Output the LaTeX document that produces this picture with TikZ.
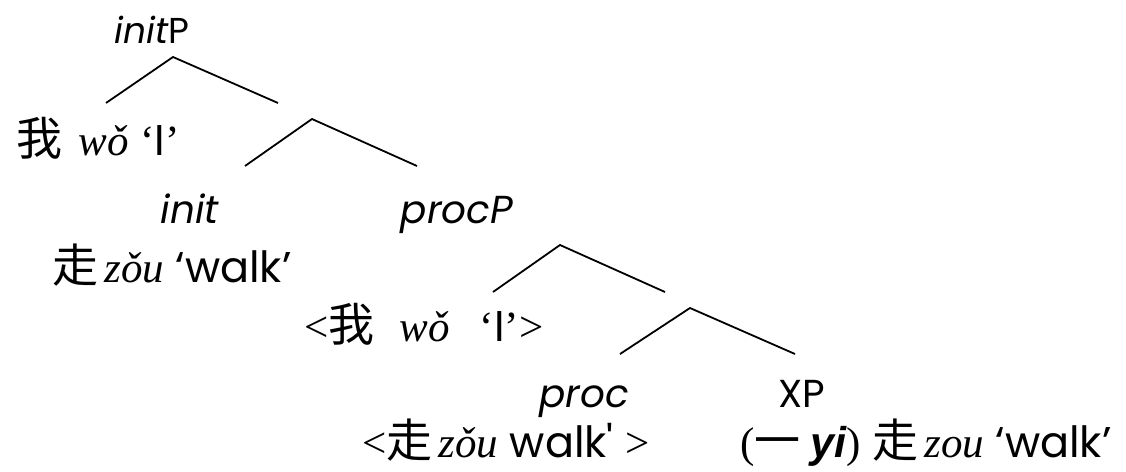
\documentclass[tikz,border=0pt]{standalone}
\usepackage{fontspec}
\setmainfont{Poppins}[Ligatures=TeXOff]
\newfontfamily\cjk{Noto Sans CJK SC}
\newfontfamily\serif{Liberation Serif}[Ligatures=TeXOff]
\newfontfamily\arialf{Liberation Sans}
\newcommand\py[1]{{\serif\itshape #1}}
\newcommand\zh[1]{{\cjk\fontsize{46}{50}\selectfont #1}}
\newcommand\qI{{\serif ‘}I{\serif ’}}
\begin{document}
\begin{tikzpicture}[x=1pt,y=-1pt,
  lbl/.style={anchor=base,inner sep=0pt,font=\fontsize{39}{46}\selectfont},
  row/.style={anchor=base,inner sep=0pt,font=\fontsize{43}{50}\selectfont},
  br/.style={line width=1.8pt}]
\useasboundingbox (0,0) rectangle (1126,471);
% labels
\node[lbl,font=\fontsize{36}{40}\selectfont] (initP) at (152,43) {\itshape init\upshape P};
\node[row] (wo) at (98,155) {\zh{我}\hspace{16pt}\py{wǒ} \qI};
\node[lbl] (init) at (190,223) {\itshape init};
\node[lbl] (procP) at (457,223) {\itshape procP};
\node[row] (zou) at (172,282) {\zh{走}\hspace{6pt}\py{zǒu} ‘walk’};
\node[row] (wotr) at (424,341) {{\serif <}\zh{我}\hspace{25pt}\py{wǒ}\hspace{30pt}\qI{\serif >}};
\node[lbl] (proc) at (584,407) {\itshape proc};
\node[lbl] (XP) at (802,407) {XP};
\node[row] (zoutr) at (506,457) {{\serif <}\zh{走}\hspace{6pt}\py{zǒu} walk' {\serif >}};
\node[row] (yi) at (926,457) {{\serif (}\zh{一}\hspace{10pt}{\arialf\bfseries\itshape yi}{\serif )} \zh{走}\hspace{6pt}\py{zou} ‘walk’};
% branch points
\coordinate (a0) at (173,57);  \coordinate (a1) at (106,103); \coordinate (a2) at (278,103);
\coordinate (b0) at (312,119); \coordinate (b1) at (245,166); \coordinate (b2) at (417,166);
\coordinate (c0) at (560,245); \coordinate (c1) at (493,292); \coordinate (c2) at (665,292);
\coordinate (d0) at (690,308); \coordinate (d1) at (620,354); \coordinate (d2) at (795,354);
\draw[br] (a1) -- (a0) -- (a2);
\draw[br] (b1) -- (b0) -- (b2);
\draw[br] (c1) -- (c0) -- (c2);
\draw[br] (d1) -- (d0) -- (d2);
\end{tikzpicture}
\end{document}
